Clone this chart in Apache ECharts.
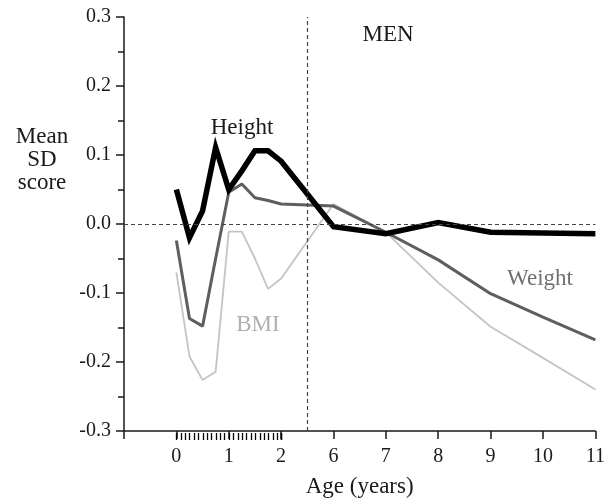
<!DOCTYPE html>
<html>
<head>
<meta charset="utf-8">
<script src="https://cdn.jsdelivr.net/npm/echarts@6/dist/echarts.min.js"></script>
<style>
html,body{margin:0;padding:0;background:#fff;}
#chart{width:608px;height:503px;}
</style>
</head>
<body>
<div id="chart"></div>
<script>
// Ages (years) of the data points
const ages = [0, 0.25, 0.5, 0.75, 1, 1.25, 1.5, 1.75, 2, 6, 7, 8, 9, 10, 11];
// Mean SD scores
const heightSD = [0.050, -0.020, 0.019, 0.111, 0.050, 0.077, 0.106, 0.106, 0.091, -0.004, -0.014, 0.002, -0.012, -0.013, -0.014];
const weightSD = [-0.024, -0.137, -0.148, -0.050, 0.046, 0.058, 0.038, 0.034, 0.029, 0.026, -0.012, -0.052, -0.101, -0.135, -0.168];
const bmiSD    = [-0.070, -0.192, -0.226, -0.214, -0.011, -0.011, -0.050, -0.094, -0.079, 0.029, -0.012, -0.085, -0.149, -0.194, -0.240];
// x tick labels (broken axis: 0,1,2 then 6..11)
const xTickPositions = [-1, 0, 1, 2, 3, 4, 5, 6, 7, 8];
const xTickLabels    = ['', '0', '1', '2', '6', '7', '8', '9', '10', '11'];

// broken axis: ages up to 2 map directly, ages >= 6 are shifted left by 3
function agePos(a) { return a <= 2 ? a : a - 3; }

const FONT = 'Liberation Serif';
const chart = echarts.init(document.getElementById('chart'), null, {renderer: 'canvas'});

const axisColor = '#1a1a1a';
const G = {left: 124, right: 11, top: 17, bottom: 70};
const plotW = 608 - G.left - G.right;
const unit = plotW / 9;

function mk(arr) { return ages.map((a, i) => [agePos(a), arr[i]]); }

chart.setOption({
  animation: false,
  backgroundColor: '#fff',
  grid: [
    {left: G.left, right: G.right, top: G.top, bottom: G.bottom, containLabel: false},
    // helper grid covering 0..2 years for the monthly ticks
    {left: G.left + unit, width: 2 * unit, top: G.top, bottom: G.bottom, containLabel: false}
  ],
  xAxis: [{
    gridIndex: 0, type: 'value', min: -1, max: 8, interval: 1, position: 'bottom',
    axisLine: {show: true, onZero: false, lineStyle: {color: axisColor, width: 1.5}},
    axisTick: {show: true, length: 8, lineStyle: {color: axisColor, width: 1.5}},
    splitLine: {show: false},
    axisLabel: {
      margin: 16, color: '#1a1a1a', fontFamily: FONT, fontSize: 20,
      formatter: function (v) { const k = xTickPositions.indexOf(Math.round(v)); return k >= 0 ? xTickLabels[k] : ''; }
    },
    name: 'Age (years)', nameLocation: 'middle', nameGap: 44,
    nameTextStyle: {fontFamily: FONT, fontSize: 23, color: '#1a1a1a'}
  }, {
    gridIndex: 1, type: 'value', min: 0, max: 2, interval: 1 / 12, position: 'bottom',
    axisLine: {show: false, onZero: false},
    axisLabel: {show: false},
    axisTick: {show: true, length: 7, lineStyle: {color: '#000', width: 1.3}},
    splitLine: {show: false}
  }],
  yAxis: [{
    gridIndex: 0, type: 'value', min: -0.3, max: 0.3, interval: 0.1,
    axisLine: {show: true, onZero: false, lineStyle: {color: axisColor, width: 1.5}},
    axisTick: {show: true, length: 8, lineStyle: {color: axisColor, width: 1.5}},
    minorTick: {show: true, splitNumber: 2, length: 6, lineStyle: {color: axisColor, width: 1.5}},
    splitLine: {show: false},
    axisLabel: {margin: 13, color: '#1a1a1a', fontFamily: FONT, fontSize: 20,
      formatter: function (v) { return (Math.abs(v) < 1e-9 ? 0 : v).toFixed(1); }}
  }, {
    gridIndex: 1, type: 'value', min: -0.3, max: 0.3, show: false
  }],
  graphic: [
    {type: 'text', x: 42, y: 160, style: {text: 'Mean\nSD\nscore', fontFamily: FONT, fontSize: 23, lineHeight: 23, fill: '#1a1a1a', align: 'center', verticalAlign: 'middle'}},
    {type: 'text', x: 388, y: 35, style: {text: 'MEN', fontFamily: FONT, fontSize: 23, fill: '#1a1a1a', align: 'center', verticalAlign: 'middle'}},
    {type: 'text', x: 242, y: 128, style: {text: 'Height', fontFamily: FONT, fontSize: 23, fill: '#1a1a1a', align: 'center', verticalAlign: 'middle'}},
    {type: 'text', x: 258, y: 325, style: {text: 'BMI', fontFamily: FONT, fontSize: 23, fill: '#b0b0b0', align: 'center', verticalAlign: 'middle'}},
    {type: 'text', x: 540, y: 279, style: {text: 'Weight', fontFamily: FONT, fontSize: 23, fill: '#707070', align: 'center', verticalAlign: 'middle'}}
  ],
  series: [
    {
      name: 'BMI', type: 'line', data: mk(bmiSD), showSymbol: false, z: 2,
      xAxisIndex: 0, yAxisIndex: 0,
      lineStyle: {color: '#c4c4c4', width: 1.8},
      markLine: {
        silent: true, symbol: 'none', label: {show: false},
        lineStyle: {color: '#444', width: 1.2, type: [4, 3]},
        data: [{yAxis: 0}, {xAxis: 2.5}]
      }
    },
    {
      name: 'Weight', type: 'line', data: mk(weightSD), showSymbol: false, z: 3,
      xAxisIndex: 0, yAxisIndex: 0,
      lineStyle: {color: '#5e5e5e', width: 3}
    },
    {
      name: 'Height', type: 'line', data: mk(heightSD), showSymbol: false, z: 4,
      xAxisIndex: 0, yAxisIndex: 0,
      lineStyle: {color: '#000', width: 5.5, join: 'miter'}
    }
  ]
});
</script>
</body>
</html>
